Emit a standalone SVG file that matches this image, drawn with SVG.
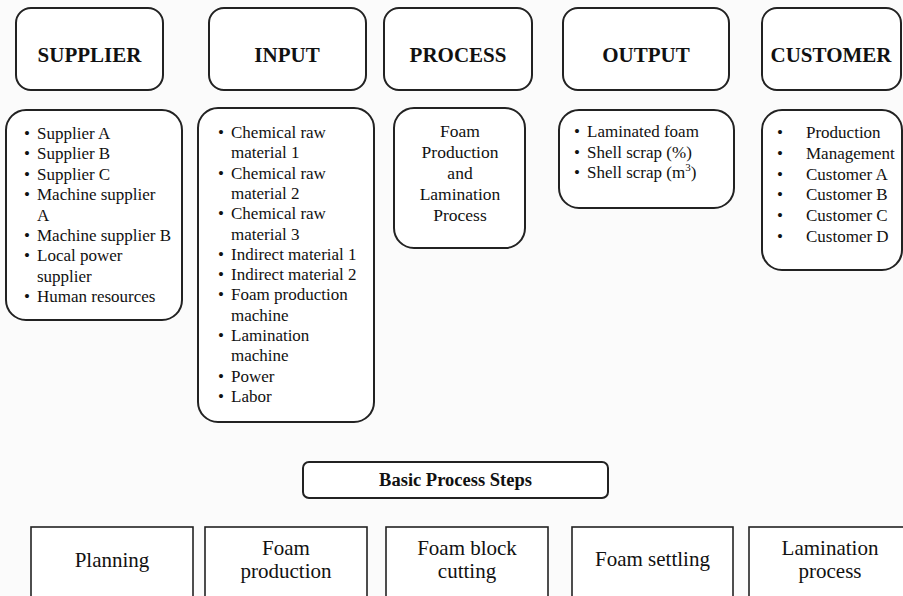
<svg xmlns="http://www.w3.org/2000/svg" width="903" height="596" viewBox="0 0 903 596">
<style>
.bg{fill:#fbfbfb}
.hb{fill:#fff;stroke:#222;stroke-width:2}
.lb{fill:#fff;stroke:#222;stroke-width:2}
.sb{fill:#fff;stroke:#222;stroke-width:1.6}
.h{font-size:21px;font-weight:bold;text-anchor:middle;fill:#111}
.t{font-size:17px;fill:#111}
.c{font-size:17.5px;text-anchor:middle;fill:#111}
.s{font-size:21px;text-anchor:middle;fill:#111}
.bp{font-size:18.5px;font-weight:bold;text-anchor:middle;fill:#111}
</style>
<rect class="bg" x="0" y="0" width="903" height="596"/>
<g id="connectors"></g>
<g id="h-supplier"><rect class="hb" x="16" y="8" width="147" height="82" rx="15"/><text class="h" font-family="Liberation Serif" style="font-family:'Liberation Serif',serif" x="89.5" y="62">SUPPLIER</text></g>
<g id="h-input"><rect class="hb" x="209" y="8" width="157" height="82" rx="15"/><text class="h" font-family="Liberation Serif" style="font-family:'Liberation Serif',serif" x="287" y="62">INPUT</text></g>
<g id="h-process"><rect class="hb" x="384" y="8" width="148" height="82" rx="15"/><text class="h" font-family="Liberation Serif" style="font-family:'Liberation Serif',serif" x="458" y="62">PROCESS</text></g>
<g id="h-output"><rect class="hb" x="563" y="8" width="166" height="82" rx="15"/><text class="h" font-family="Liberation Serif" style="font-family:'Liberation Serif',serif" x="646" y="62">OUTPUT</text></g>
<g id="h-customer"><rect class="hb" x="762" y="8" width="139" height="82" rx="15"/><text class="h" font-family="Liberation Serif" style="font-family:'Liberation Serif',serif" x="831" y="62">CUSTOMER</text></g>

<g id="l-supplier"><rect class="lb" x="6" y="110" width="176" height="210" rx="20"/>
<text class="t" font-family="Liberation Serif" style="font-family:'Liberation Serif',serif" x="24" y="139">•</text><text class="t" font-family="Liberation Serif" style="font-family:'Liberation Serif',serif" x="37" y="139">Supplier A</text>
<text class="t" font-family="Liberation Serif" style="font-family:'Liberation Serif',serif" x="24" y="159.4">•</text><text class="t" font-family="Liberation Serif" style="font-family:'Liberation Serif',serif" x="37" y="159.4">Supplier B</text>
<text class="t" font-family="Liberation Serif" style="font-family:'Liberation Serif',serif" x="24" y="179.8">•</text><text class="t" font-family="Liberation Serif" style="font-family:'Liberation Serif',serif" x="37" y="179.8">Supplier C</text>
<text class="t" font-family="Liberation Serif" style="font-family:'Liberation Serif',serif" x="24" y="200.2">•</text><text class="t" font-family="Liberation Serif" style="font-family:'Liberation Serif',serif" x="37" y="200.2">Machine supplier</text>
<text class="t" font-family="Liberation Serif" style="font-family:'Liberation Serif',serif" x="37" y="220.6">A</text>
<text class="t" font-family="Liberation Serif" style="font-family:'Liberation Serif',serif" x="24" y="241">•</text><text class="t" font-family="Liberation Serif" style="font-family:'Liberation Serif',serif" x="37" y="241">Machine supplier B</text>
<text class="t" font-family="Liberation Serif" style="font-family:'Liberation Serif',serif" x="24" y="261.4">•</text><text class="t" font-family="Liberation Serif" style="font-family:'Liberation Serif',serif" x="37" y="261.4">Local power</text>
<text class="t" font-family="Liberation Serif" style="font-family:'Liberation Serif',serif" x="37" y="281.8">supplier</text>
<text class="t" font-family="Liberation Serif" style="font-family:'Liberation Serif',serif" x="24" y="302.2">•</text><text class="t" font-family="Liberation Serif" style="font-family:'Liberation Serif',serif" x="37" y="302.2">Human resources</text>
</g>

<g id="l-input"><rect class="lb" x="198" y="108" width="176" height="314" rx="20"/>
<text class="t" font-family="Liberation Serif" style="font-family:'Liberation Serif',serif" x="218" y="138">•</text><text class="t" font-family="Liberation Serif" style="font-family:'Liberation Serif',serif" x="231" y="138">Chemical raw</text>
<text class="t" font-family="Liberation Serif" style="font-family:'Liberation Serif',serif" x="231" y="158.3">material 1</text>
<text class="t" font-family="Liberation Serif" style="font-family:'Liberation Serif',serif" x="218" y="178.6">•</text><text class="t" font-family="Liberation Serif" style="font-family:'Liberation Serif',serif" x="231" y="178.6">Chemical raw</text>
<text class="t" font-family="Liberation Serif" style="font-family:'Liberation Serif',serif" x="231" y="198.9">material 2</text>
<text class="t" font-family="Liberation Serif" style="font-family:'Liberation Serif',serif" x="218" y="219.2">•</text><text class="t" font-family="Liberation Serif" style="font-family:'Liberation Serif',serif" x="231" y="219.2">Chemical raw</text>
<text class="t" font-family="Liberation Serif" style="font-family:'Liberation Serif',serif" x="231" y="239.5">material 3</text>
<text class="t" font-family="Liberation Serif" style="font-family:'Liberation Serif',serif" x="218" y="259.8">•</text><text class="t" font-family="Liberation Serif" style="font-family:'Liberation Serif',serif" x="231" y="259.8">Indirect material 1</text>
<text class="t" font-family="Liberation Serif" style="font-family:'Liberation Serif',serif" x="218" y="280.1">•</text><text class="t" font-family="Liberation Serif" style="font-family:'Liberation Serif',serif" x="231" y="280.1">Indirect material 2</text>
<text class="t" font-family="Liberation Serif" style="font-family:'Liberation Serif',serif" x="218" y="300.4">•</text><text class="t" font-family="Liberation Serif" style="font-family:'Liberation Serif',serif" x="231" y="300.4">Foam production</text>
<text class="t" font-family="Liberation Serif" style="font-family:'Liberation Serif',serif" x="231" y="320.7">machine</text>
<text class="t" font-family="Liberation Serif" style="font-family:'Liberation Serif',serif" x="218" y="341">•</text><text class="t" font-family="Liberation Serif" style="font-family:'Liberation Serif',serif" x="231" y="341">Lamination</text>
<text class="t" font-family="Liberation Serif" style="font-family:'Liberation Serif',serif" x="231" y="361.3">machine</text>
<text class="t" font-family="Liberation Serif" style="font-family:'Liberation Serif',serif" x="218" y="381.6">•</text><text class="t" font-family="Liberation Serif" style="font-family:'Liberation Serif',serif" x="231" y="381.6">Power</text>
<text class="t" font-family="Liberation Serif" style="font-family:'Liberation Serif',serif" x="218" y="401.9">•</text><text class="t" font-family="Liberation Serif" style="font-family:'Liberation Serif',serif" x="231" y="401.9">Labor</text>
</g>

<g id="l-process"><rect class="lb" x="394" y="108" width="131" height="140" rx="20"/>
<text class="c" font-family="Liberation Serif" style="font-family:'Liberation Serif',serif" x="460" y="137">Foam</text>
<text class="c" font-family="Liberation Serif" style="font-family:'Liberation Serif',serif" x="460" y="158">Production</text>
<text class="c" font-family="Liberation Serif" style="font-family:'Liberation Serif',serif" x="460" y="179">and</text>
<text class="c" font-family="Liberation Serif" style="font-family:'Liberation Serif',serif" x="460" y="200">Lamination</text>
<text class="c" font-family="Liberation Serif" style="font-family:'Liberation Serif',serif" x="460" y="221">Process</text>
</g>

<g id="l-output"><rect class="lb" x="559" y="110" width="175" height="98" rx="20"/>
<text class="t" font-family="Liberation Serif" style="font-family:'Liberation Serif',serif" x="574" y="137">•</text><text class="t" font-family="Liberation Serif" style="font-family:'Liberation Serif',serif" x="587" y="137">Laminated foam</text>
<text class="t" font-family="Liberation Serif" style="font-family:'Liberation Serif',serif" x="574" y="157.5">•</text><text class="t" font-family="Liberation Serif" style="font-family:'Liberation Serif',serif" x="587" y="157.5">Shell scrap (%)</text>
<text class="t" font-family="Liberation Serif" style="font-family:'Liberation Serif',serif" x="574" y="178">•</text><text class="t" font-family="Liberation Serif" style="font-family:'Liberation Serif',serif" x="587" y="178">Shell scrap (m<tspan font-size="11" dy="-7" style="font-family:'Liberation Serif',serif">3</tspan><tspan dy="7" style="font-family:'Liberation Serif',serif">)</tspan></text>
</g>

<g id="l-customer"><rect class="lb" x="762" y="110" width="140" height="160" rx="20"/>
<text class="t" font-family="Liberation Serif" style="font-family:'Liberation Serif',serif" x="777" y="138">•</text><text class="t" font-family="Liberation Serif" style="font-family:'Liberation Serif',serif" x="806" y="138">Production</text>
<text class="t" font-family="Liberation Serif" style="font-family:'Liberation Serif',serif" x="777" y="158.8">•</text><text class="t" font-family="Liberation Serif" style="font-family:'Liberation Serif',serif" x="806" y="158.8">Management</text>
<text class="t" font-family="Liberation Serif" style="font-family:'Liberation Serif',serif" x="777" y="179.6">•</text><text class="t" font-family="Liberation Serif" style="font-family:'Liberation Serif',serif" x="806" y="179.6">Customer A</text>
<text class="t" font-family="Liberation Serif" style="font-family:'Liberation Serif',serif" x="777" y="200.4">•</text><text class="t" font-family="Liberation Serif" style="font-family:'Liberation Serif',serif" x="806" y="200.4">Customer B</text>
<text class="t" font-family="Liberation Serif" style="font-family:'Liberation Serif',serif" x="777" y="221.2">•</text><text class="t" font-family="Liberation Serif" style="font-family:'Liberation Serif',serif" x="806" y="221.2">Customer C</text>
<text class="t" font-family="Liberation Serif" style="font-family:'Liberation Serif',serif" x="777" y="242">•</text><text class="t" font-family="Liberation Serif" style="font-family:'Liberation Serif',serif" x="806" y="242">Customer D</text>
</g>

<g id="basic-steps"><rect class="hb" x="303" y="462" width="305" height="36" rx="6"/><text class="bp" font-family="Liberation Serif" style="font-family:'Liberation Serif',serif" x="455.5" y="486">Basic Process Steps</text></g>

<g id="s-planning"><rect class="sb" x="31" y="527" width="162" height="90"/><text class="s" font-family="Liberation Serif" style="font-family:'Liberation Serif',serif" x="112" y="567">Planning</text></g>
<g id="s-foam-production"><rect class="sb" x="205" y="527" width="162" height="90"/><text class="s" font-family="Liberation Serif" style="font-family:'Liberation Serif',serif" x="286" y="555">Foam</text><text class="s" font-family="Liberation Serif" style="font-family:'Liberation Serif',serif" x="286" y="578">production</text></g>
<g id="s-block-cutting"><rect class="sb" x="386" y="527" width="162" height="90"/><text class="s" font-family="Liberation Serif" style="font-family:'Liberation Serif',serif" x="467" y="555">Foam block</text><text class="s" font-family="Liberation Serif" style="font-family:'Liberation Serif',serif" x="467" y="578">cutting</text></g>
<g id="s-settling"><rect class="sb" x="572" y="527" width="161" height="90"/><text class="s" font-family="Liberation Serif" style="font-family:'Liberation Serif',serif" x="652.5" y="566">Foam settling</text></g>
<g id="s-lamination"><rect class="sb" x="749" y="527" width="162" height="90"/><text class="s" font-family="Liberation Serif" style="font-family:'Liberation Serif',serif" x="830" y="555">Lamination</text><text class="s" font-family="Liberation Serif" style="font-family:'Liberation Serif',serif" x="830" y="578">process</text></g>
</svg>
